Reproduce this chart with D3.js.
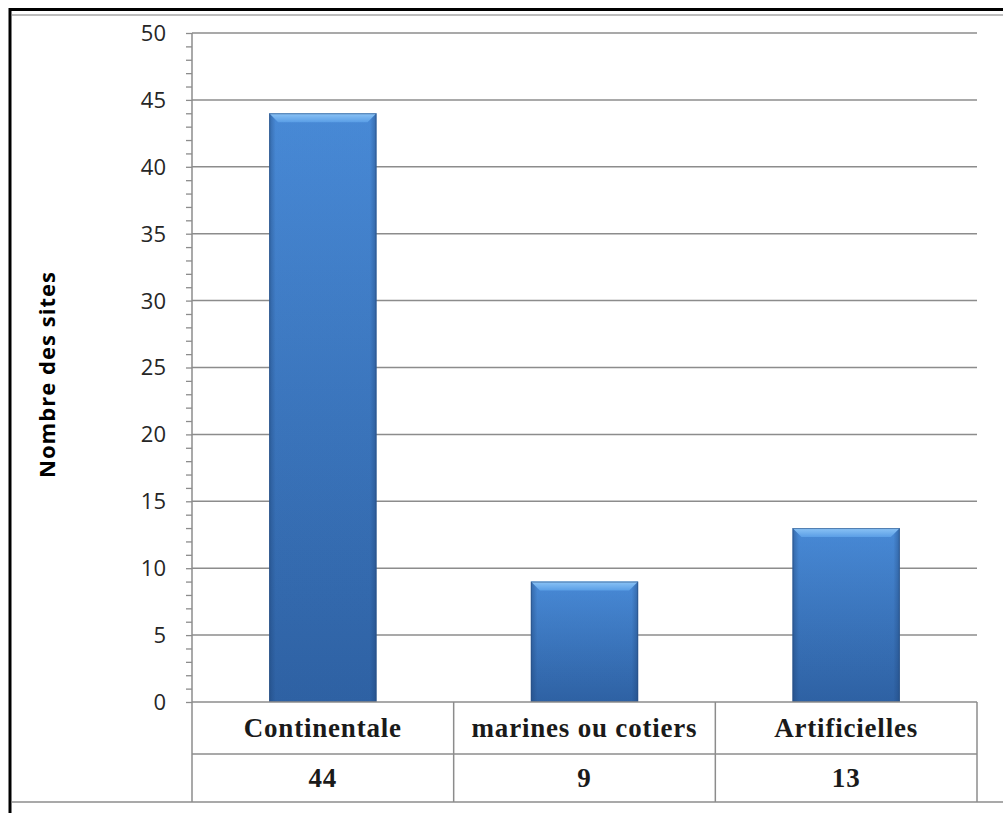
<!DOCTYPE html>
<html>
<head>
<meta charset="utf-8">
<script src="https://cdn.jsdelivr.net/npm/d3@7"></script>
<style>
  body { margin: 0; background: #fff; }
  svg { display: block; }
</style>
</head>
<body>
<svg id="chart" width="1003" height="813"></svg>
<script>
// data
var categories = ["Continentale", "marines ou cotiers", "Artificielles"];
var values = [44, 9, 13];
var yTicks = [0, 5, 10, 15, 20, 25, 30, 35, 40, 45, 50];
var yTitle = "Nombre des sites";

var svg = d3.select("#chart");

var plot = {left: 192, right: 977, top: 33, bottom: 702};
var tableRow1 = 754, tableBottom = 802;

var x = d3.scaleBand()
  .domain(categories)
  .range([plot.left, plot.right])
  .paddingInner(0.59)
  .paddingOuter(0.295);
var xCell = d3.scaleBand()
  .domain(categories)
  .range([plot.left, plot.right]);
var y = d3.scaleLinear()
  .domain([0, 50])
  .range([plot.bottom, plot.top]);

// gradients
var defs = svg.append("defs");
var gv = defs.append("linearGradient").attr("id", "barV")
  .attr("x1", 0).attr("y1", 0).attr("x2", 0).attr("y2", 1);
gv.append("stop").attr("offset", "0%").attr("stop-color", "#4a8ddb");
gv.append("stop").attr("offset", "100%").attr("stop-color", "#2f63a6");
var gh = defs.append("linearGradient").attr("id", "barH")
  .attr("x1", 0).attr("y1", 0).attr("x2", 1).attr("y2", 0);
gh.append("stop").attr("offset", "0%").attr("stop-color", "#1c3f70").attr("stop-opacity", 0.45);
gh.append("stop").attr("offset", "6%").attr("stop-color", "#1c3f70").attr("stop-opacity", 0.05);
gh.append("stop").attr("offset", "94%").attr("stop-color", "#1c3f70").attr("stop-opacity", 0.05);
gh.append("stop").attr("offset", "100%").attr("stop-color", "#1c3f70").attr("stop-opacity", 0.45);
var gb = defs.append("linearGradient").attr("id", "bevel")
  .attr("x1", 0).attr("y1", 0).attr("x2", 0).attr("y2", 1);
gb.append("stop").attr("offset", "0%").attr("stop-color", "#8cc4f6");
gb.append("stop").attr("offset", "100%").attr("stop-color", "#5a9ee6");

// outer frame
svg.append("line").attr("x1", 10).attr("x2", 1003).attr("y1", 9.5).attr("y2", 9.5)
  .attr("stroke", "#000").attr("stroke-width", 3);
svg.append("line").attr("x1", 10).attr("x2", 10).attr("y1", 8).attr("y2", 813)
  .attr("stroke", "#000").attr("stroke-width", 3);
svg.append("line").attr("x1", 12).attr("x2", 1003).attr("y1", 15).attr("y2", 15)
  .attr("stroke", "#a6a6a6").attr("stroke-width", 1.5);

// gridlines
svg.append("g").selectAll("line")
  .data(yTicks.filter(function(d) { return d > 0; }))
  .join("line")
  .attr("x1", plot.left).attr("x2", plot.right)
  .attr("y1", function(d) { return y(d); })
  .attr("y2", function(d) { return y(d); })
  .attr("stroke", "#8c8c8c").attr("stroke-width", 1.5);

// y axis with minor ticks
var yAxis = svg.append("g")
  .attr("transform", "translate(" + plot.left + ",0)")
  .call(d3.axisLeft(y).ticks(50).tickSize(6).tickFormat(""));
yAxis.select(".domain").remove();
yAxis.selectAll(".tick line").attr("stroke", "#8c8c8c").attr("stroke-width", 1.3);

svg.append("g").selectAll("text")
  .data(yTicks)
  .join("text")
  .attr("x", 166)
  .attr("y", function(d) { return y(d); })
  .attr("dy", "0.36em")
  .attr("text-anchor", "end")
  .attr("font-family", "'Open Sans', sans-serif")
  .attr("font-size", 22)
  .attr("fill", "#262626")
  .text(function(d) { return d; });

// axis title
svg.append("text")
  .attr("transform", "translate(55,375) rotate(-90)")
  .attr("text-anchor", "middle")
  .attr("font-family", "'Open Sans', sans-serif")
  .attr("font-weight", "bold")
  .attr("font-size", 22)
  .attr("textLength", 206)
  .attr("lengthAdjust", "spacing")
  .attr("fill", "#000")
  .text(yTitle);

// bars
var bars = svg.append("g").selectAll("g")
  .data(values)
  .join("g");
bars.append("rect")
  .attr("x", function(d, i) { return x(categories[i]); })
  .attr("y", function(d) { return y(d); })
  .attr("width", x.bandwidth())
  .attr("height", function(d) { return y(0) - y(d); })
  .attr("fill", "url(#barV)");
bars.append("rect")
  .attr("x", function(d, i) { return x(categories[i]); })
  .attr("y", function(d) { return y(d); })
  .attr("width", x.bandwidth())
  .attr("height", function(d) { return y(0) - y(d); })
  .attr("fill", "url(#barH)");
bars.append("path")
  .attr("d", function(d, i) {
    var x0 = x(categories[i]), x1 = x0 + x.bandwidth(), t = y(d), b = 9;
    return "M" + x0 + "," + t + "L" + x1 + "," + t + "L" + (x1 - b) + "," + (t + b) +
      "L" + (x0 + b) + "," + (t + b) + "Z";
  })
  .attr("fill", "url(#bevel)");
bars.append("rect")
  .attr("x", function(d, i) { return x(categories[i]) + 0.5; })
  .attr("y", function(d) { return y(d) + 0.5; })
  .attr("width", x.bandwidth() - 1)
  .attr("height", function(d) { return y(0) - y(d) - 1; })
  .attr("fill", "none")
  .attr("stroke", "#2a4f80").attr("stroke-opacity", 0.6);

// data table
var tableColor = "#8c8c8c";
svg.append("line").attr("x1", plot.left).attr("x2", plot.right)
  .attr("y1", plot.bottom).attr("y2", plot.bottom)
  .attr("stroke", tableColor).attr("stroke-width", 1.5);
svg.append("line").attr("x1", plot.left).attr("x2", plot.right)
  .attr("y1", tableRow1).attr("y2", tableRow1)
  .attr("stroke", tableColor).attr("stroke-width", 1.5);
svg.append("line").attr("x1", 12).attr("x2", 1003)
  .attr("y1", tableBottom).attr("y2", tableBottom)
  .attr("stroke", tableColor).attr("stroke-width", 1.5);
svg.append("line").attr("x1", plot.left).attr("x2", plot.left)
  .attr("y1", plot.top).attr("y2", tableBottom)
  .attr("stroke", tableColor).attr("stroke-width", 1.5);
svg.append("g").selectAll("line")
  .data(categories)
  .join("line")
  .attr("x1", function(d) { return xCell(d) + xCell.bandwidth(); })
  .attr("x2", function(d) { return xCell(d) + xCell.bandwidth(); })
  .attr("y1", plot.bottom).attr("y2", tableBottom)
  .attr("stroke", tableColor).attr("stroke-width", 1.5);

var serif = "'Liberation Serif', 'Times New Roman', serif";
svg.append("g").selectAll("text")
  .data(categories)
  .join("text")
  .attr("x", function(d) { return xCell(d) + xCell.bandwidth() / 2; })
  .attr("y", (plot.bottom + tableRow1) / 2)
  .attr("dy", "0.33em")
  .attr("text-anchor", "middle")
  .attr("font-family", serif)
  .attr("font-weight", "bold")
  .attr("font-size", 27)
  .attr("letter-spacing", 0.8)
  .attr("fill", "#1a1a1a")
  .text(function(d) { return d; });
svg.append("g").selectAll("text")
  .data(values)
  .join("text")
  .attr("x", function(d, i) { return xCell(categories[i]) + xCell.bandwidth() / 2; })
  .attr("y", (tableRow1 + tableBottom) / 2)
  .attr("dy", "0.33em")
  .attr("text-anchor", "middle")
  .attr("font-family", serif)
  .attr("font-weight", "bold")
  .attr("font-size", 27)
  .attr("letter-spacing", 0.8)
  .attr("fill", "#1a1a1a")
  .text(function(d) { return d; });
</script>
</body>
</html>
